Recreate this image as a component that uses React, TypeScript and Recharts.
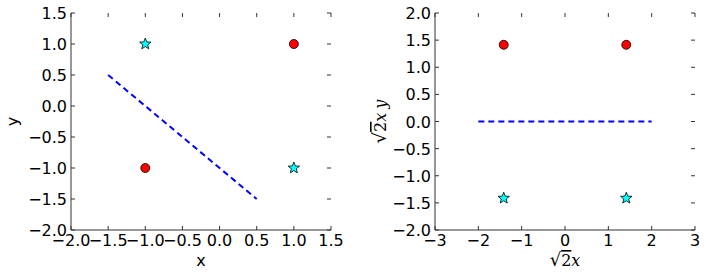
import React from 'react';
import { ScatterChart, Scatter, XAxis, YAxis, Label, ReferenceArea } from 'recharts';

// left panel: original space
const leftXTicks = [-2, -1.5, -1, -0.5, 0, 0.5, 1, 1.5];
const leftYTicks = [-2, -1.5, -1, -0.5, 0, 0.5, 1, 1.5];
const leftCircles = [{ x: -1, y: -1 }, { x: 1, y: 1 }];
const leftStars = [{ x: -1, y: 1 }, { x: 1, y: -1 }];
const leftLine = [{ x: -1.5, y: 0.5 }, { x: 0.5, y: -1.5 }];

// right panel: transformed space
const rightXTicks = [-3, -2, -1, 0, 1, 2, 3];
const rightYTicks = [-2, -1.5, -1, -0.5, 0, 0.5, 1, 1.5, 2];
const rightCircles = [{ x: -1.414, y: 1.414 }, { x: 1.414, y: 1.414 }];
const rightStars = [{ x: -1.414, y: -1.414 }, { x: 1.414, y: -1.414 }];
const rightLine = [{ x: -2, y: 0 }, { x: 2, y: 0 }];

const FONT = 'DejaVu Sans, sans-serif';
const FRAME = '#333';
const TICK_LEN = 4;
const FS = 16;
const W = 353;
const H = 280;
const TOP = 13;

const fmt1 = (v: number) => v.toFixed(1).replace('-', '\u2212');
const fmt0 = (v: number) => v.toFixed(0).replace('-', '\u2212');

// bottom tick label + inward ticks on bottom and top edges
const BottomTick = (fmt: (v: number) => string) => (props: any) => {
  const { x, y, payload } = props;
  return (
    <g>
      <line x1={x} x2={x} y1={y} y2={y - TICK_LEN} stroke={FRAME} />
      <line x1={x} x2={x} y1={TOP} y2={TOP + TICK_LEN} stroke={FRAME} />
      <text x={x} y={y + 16} textAnchor="middle" fontSize={FS} fontFamily={FONT} fill="#000">
        {fmt(payload.value)}
      </text>
    </g>
  );
};

// left tick label + inward ticks on left and right edges
const LeftTick = (fmt: (v: number) => string, rightEdge: number) => (props: any) => {
  const { x, y, payload } = props;
  return (
    <g>
      <line x1={x} x2={x + TICK_LEN} y1={y} y2={y} stroke={FRAME} />
      <line x1={rightEdge} x2={rightEdge - TICK_LEN} y1={y} y2={y} stroke={FRAME} />
      <text x={x - 4} y={y + 6} textAnchor="end" fontSize={FS} fontFamily={FONT} fill="#000">
        {fmt(payload.value)}
      </text>
    </g>
  );
};

const RedDot = (props: any) => (
  <circle cx={props.cx} cy={props.cy} r={4.5} fill="#ff0000" stroke="#000" strokeWidth={0.8} />
);

const CyanStar = (props: any) => {
  const { cx, cy } = props;
  const pts: string[] = [];
  for (let i = 0; i < 10; i++) {
    const r = i % 2 === 0 ? 6 : 2.6;
    const a = -Math.PI / 2 + (i * Math.PI) / 5;
    pts.push(`${cx + r * Math.cos(a)},${cy + r * Math.sin(a)}`);
  }
  return <polygon points={pts.join(' ')} fill="#00ffff" stroke="#000" strokeWidth={0.8} />;
};

const NoShape = () => <g />;

const AxisTitle = (vb: any, rotate: boolean, math: boolean, v: string) => {
  const { x, y, width, height } = vb;
  const cx = rotate ? (math ? 33 : 18) : x + width / 2;
  const cy = rotate ? y + height / 2 : 266;
  const transform = rotate ? `rotate(-90 ${cx} ${cy})` : undefined;
  if (!math) {
    return (
      <text x={cx} y={cy} textAnchor="middle" fontSize={FS} fontFamily={FONT} fill="#000" transform={transform}>
        {v}
      </text>
    );
  }
  return (
    <text x={cx} y={cy} textAnchor="middle" fontSize={FS} fontFamily="DejaVu Serif, serif" fill="#000" transform={transform}>
      <tspan fontSize={FS + 2}>{'\u221A'}</tspan>
      <tspan textDecoration="overline">2</tspan>
      <tspan fontStyle="italic">x</tspan>
      {v && <tspan fontStyle="italic" dx={4}>{v}</tspan>}
    </text>
  );
};

type PanelProps = {
  xTicks: number[];
  yTicks: number[];
  fmtX: (v: number) => string;
  fmtY: (v: number) => string;
  circles: { x: number; y: number }[];
  stars: { x: number; y: number }[];
  line: { x: number; y: number }[];
  left: number;
  yAxisWidth: number;
  right: number;
  math: boolean;
};

const Panel: React.FC<PanelProps> = ({ xTicks, yTicks, fmtX, fmtY, circles, stars, line, left, yAxisWidth, right, math }) => {
  const xDomain = [xTicks[0], xTicks[xTicks.length - 1]];
  const yDomain = [yTicks[0], yTicks[yTicks.length - 1]];
  return (
    <div style={{ position: 'absolute', left, top: 0 }}>
      <ScatterChart width={W} height={H} margin={{ top: TOP, right, bottom: 0, left: 0 }}>
        <XAxis
          dataKey="x"
          type="number"
          domain={xDomain}
          ticks={xTicks}
          interval={0}
          height={50}
          tickSize={0}
          tickMargin={0}
          tickLine={false}
          axisLine={{ stroke: FRAME }}
          tick={BottomTick(fmtX)}
          allowDataOverflow
        >
          <Label content={(p: any) => AxisTitle(p.viewBox, false, math, math ? '' : 'x')} />
        </XAxis>
        <YAxis
          dataKey="y"
          type="number"
          domain={yDomain}
          ticks={yTicks}
          interval={0}
          width={yAxisWidth}
          tickSize={0}
          tickMargin={0}
          tickLine={false}
          axisLine={{ stroke: FRAME }}
          tick={LeftTick(fmtY, W - right)}
          allowDataOverflow
        >
          <Label content={(p: any) => AxisTitle(p.viewBox, true, math, 'y')} />
        </YAxis>
        <ReferenceArea fill="none" fillOpacity={0} stroke={FRAME} strokeWidth={1} ifOverflow="visible" />
        <Scatter
          data={line}
          line={{ stroke: '#0000ff', strokeWidth: 2, strokeDasharray: '6 4' }}
          shape={NoShape}
          isAnimationActive={false}
        />
        <Scatter data={circles} shape={RedDot} isAnimationActive={false} />
        <Scatter data={stars} shape={CyanStar} isAnimationActive={false} />
      </ScatterChart>
    </div>
  );
};

export default function App() {
  return (
    <div style={{ position: 'absolute', left: 0, top: 0, width: 706, height: 280, background: '#fff' }}>
      <Panel
        xTicks={leftXTicks}
        yTicks={leftYTicks}
        fmtX={fmt1}
        fmtY={fmt1}
        circles={leftCircles}
        stars={leftStars}
        line={leftLine}
        left={0}
        yAxisWidth={71}
        right={22}
        math={false}
      />
      <Panel
        xTicks={rightXTicks}
        yTicks={rightYTicks}
        fmtX={fmt0}
        fmtY={fmt1}
        circles={rightCircles}
        stars={rightStars}
        line={rightLine}
        left={353}
        yAxisWidth={82}
        right={11}
        math={true}
      />
    </div>
  );
}
